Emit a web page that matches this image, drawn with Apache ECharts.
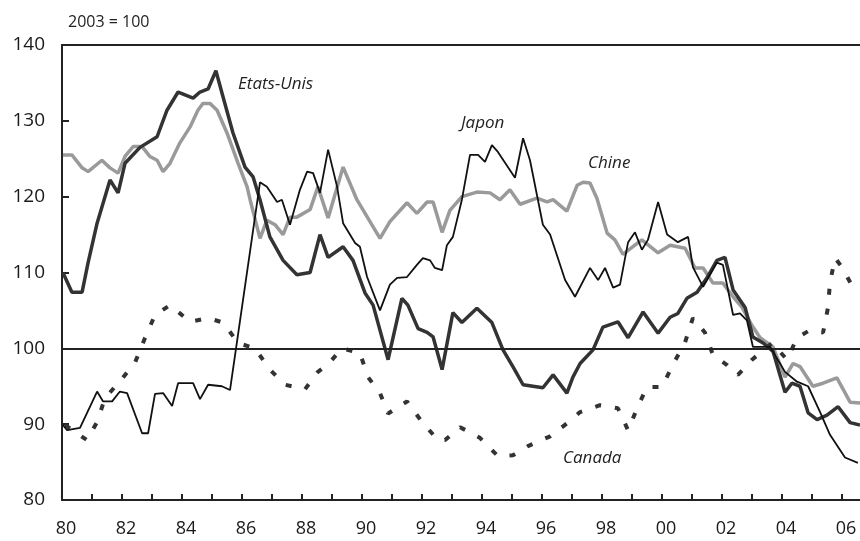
<!DOCTYPE html>
<html>
<head>
<meta charset="utf-8">
<script src="https://cdn.jsdelivr.net/npm/echarts@6/dist/echarts.min.js"></script>
<style>
html,body{margin:0;padding:0;background:#fff;}
#chart{width:860px;height:541px;}
</style>
</head>
<body>
<div id="chart"></div>
<script>
// ---- Data (year, index 2003 = 100) ----
const etatsUnis = [
  [1980.03,110],[1980.33,107.4],[1980.67,107.4],[1980.87,111.3],[1981.17,116.5],[1981.6,122.2],
  [1981.87,120.5],[1982.1,124.4],[1982.6,126.5],[1983.17,127.9],[1983.5,131.4],[1983.87,133.8],
  [1984.37,133],[1984.6,133.8],[1984.87,134.2],[1985.13,136.6],[1985.33,133.7],[1985.7,128.4],
  [1986.1,123.9],[1986.37,122.6],[1986.6,119.6],[1986.93,114.7],[1987.37,111.6],[1987.83,109.7],
  [1988.27,110],[1988.6,115],[1988.87,112],[1989.37,113.4],[1989.7,111.6],[1990.1,107.3],
  [1990.37,105.7],[1990.87,98.5],[1991.33,106.6],[1991.53,105.7],[1991.87,102.6],[1992.17,102.1],
  [1992.37,101.5],[1992.67,97.2],[1993.03,104.7],[1993.33,103.4],[1993.83,105.3],[1994.33,103.4],
  [1994.7,99.8],[1995.03,97.6],[1995.37,95.2],[1995.7,95],[1996.03,94.8],[1996.37,96.5],
  [1996.83,94.1],[1997.03,96.2],[1997.27,98],[1997.7,99.8],[1998.03,102.8],[1998.53,103.5],
  [1998.87,101.4],[1999.37,104.8],[1999.87,102],[2000.27,104.1],[2000.53,104.6],[2000.83,106.6],
  [2001.17,107.4],[2001.5,109.3],[2001.83,111.6],[2002.1,112],[2002.37,107.7],[2002.77,105.4],
  [2003.03,101.5],[2003.37,100.7],[2003.7,99.6],[2004.1,94.2],[2004.33,95.4],[2004.6,95],
  [2004.87,91.5],[2005.17,90.6],[2005.5,91.2],[2005.87,92.3],[2006.27,90.2],[2006.6,89.9]
];
const japon = [
  [1980.03,89.9],[1980.17,89.2],[1980.6,89.5],[1981.17,94.3],[1981.37,93],[1981.67,93],
  [1981.93,94.3],[1982.17,94.1],[1982.67,88.8],[1982.87,88.8],[1983.1,94],[1983.37,94.1],
  [1983.67,92.4],[1983.87,95.4],[1984.37,95.4],[1984.6,93.3],[1984.87,95.2],[1985.33,95],
  [1985.6,94.5],[1986.6,121.9],[1986.83,121.3],[1987.17,119.3],[1987.33,119.6],[1987.6,116.3],
  [1987.93,120.9],[1988.17,123.3],[1988.37,123.1],[1988.6,120.5],[1988.87,126.2],[1989.17,121.3],
  [1989.37,116.5],[1989.77,113.9],[1989.93,113.4],[1990.17,109.4],[1990.6,105],[1990.93,108.4],
  [1991.17,109.3],[1991.5,109.4],[1991.83,111],[1992.03,111.9],[1992.27,111.6],[1992.43,110.6],
  [1992.67,110.3],[1992.83,113.6],[1993.03,114.7],[1993.33,119.6],[1993.6,125.5],[1993.87,125.5],
  [1994.1,124.6],[1994.33,126.8],[1994.53,125.9],[1995.1,122.5],[1995.37,127.7],[1995.6,124.8],
  [1996.03,116.3],[1996.27,115],[1996.77,109],[1997.1,106.8],[1997.6,110.6],[1997.87,109],
  [1998.1,110.6],[1998.37,108],[1998.6,108.4],[1998.87,114],[1999.1,115.3],[1999.33,113],
  [1999.53,114.3],[1999.87,119.3],[2000.17,115],[2000.53,114],[2000.87,114.7],[2001.03,110.7],
  [2001.37,108.1],[2001.6,109.7],[2001.83,111.3],[2002.03,111],[2002.37,104.4],[2002.6,104.6],
  [2002.83,103.7],[2003.03,100.2],[2003.6,100.2],[2004.1,96.9],[2004.5,95.6],[2004.87,95],
  [2005.27,91.6],[2005.6,88.6],[2006.1,85.6],[2006.53,84.9]
];
const chine = [
  [1980.03,125.5],[1980.33,125.5],[1980.67,123.8],[1980.87,123.3],[1981.33,124.8],[1981.6,123.8],
  [1981.87,123.1],[1982.1,125.3],[1982.37,126.6],[1982.67,126.6],[1982.93,125.3],[1983.17,124.8],
  [1983.37,123.3],[1983.6,124.4],[1983.93,127.1],[1984.27,129.2],[1984.53,131.4],[1984.7,132.3],
  [1984.93,132.3],[1985.17,131.4],[1985.5,128.4],[1985.87,124.4],[1986.17,121.3],[1986.27,119.6],
  [1986.6,114.5],[1986.83,116.9],[1987.1,116.3],[1987.37,115],[1987.6,117.3],[1987.83,117.3],
  [1988.27,118.3],[1988.53,121.3],[1988.87,117.2],[1989.37,123.9],[1989.83,119.6],[1990.6,114.5],
  [1990.93,116.7],[1991.5,119.2],[1991.83,117.8],[1992.17,119.3],[1992.37,119.3],[1992.67,115.3],
  [1992.93,118.2],[1993.33,120],[1993.83,120.6],[1994.27,120.5],[1994.6,119.6],[1994.93,120.9],
  [1995.27,119],[1995.83,119.8],[1996.17,119.3],[1996.37,119.6],[1996.83,118.1],[1997.17,121.5],
  [1997.37,121.9],[1997.6,121.8],[1997.83,119.8],[1998.17,115.2],[1998.43,114.3],[1998.7,112.4],
  [1999.03,113.4],[1999.33,114.3],[1999.87,112.6],[2000.27,113.6],[2000.77,113.2],[2001.1,110.6],
  [2001.37,110.6],[2001.7,108.6],[2002.03,108.6],[2002.37,106.8],[2002.67,105.4],[2003,103],
  [2003.27,101.4],[2003.7,100.2],[2004.1,96.2],[2004.37,98],[2004.6,97.6],[2005.03,95],
  [2005.37,95.4],[2005.83,96.1],[2006.27,92.9],[2006.6,92.8]
];
const canada = [
  [1980.1,89.9],[1980.83,87.9],[1981.17,90.3],[1981.43,93.4],[1982,96],[1982.43,98.1],
  [1982.77,101.4],[1983.1,104.4],[1983.6,105.7],[1984.27,103.5],[1984.87,104],[1985.37,103.4],
  [1985.87,100.7],[1986.43,100],[1986.93,97.2],[1987.43,95.2],[1988.1,94.6],[1988.53,96.9],
  [1988.87,97.9],[1989.33,100],[1989.93,99.4],[1990.2,96.2],[1990.6,94.1],[1990.87,91.4],
  [1991.5,93],[1992,90.3],[1992.53,87.9],[1992.77,87.9],[1993.27,89.6],[1993.93,88.2],
  [1994.53,85.8],[1995.03,85.9],[1995.53,87.1],[1996.27,88.4],[1996.83,90.1],[1997.27,91.6],
  [1997.93,92.5],[1998.53,92.1],[1998.87,89.2],[1999.17,92.1],[1999.5,94.9],[2000,94.9],
  [2000.37,97.9],[2000.77,100.8],[2001.03,104],[2001.43,102.1],[2001.7,99.1],[2002.17,97.8],
  [2002.53,96.5],[2003,98.5],[2003.67,100.7],[2004.17,98.5],[2004.5,101.4],[2004.93,102.4],
  [2005.37,102.1],[2005.53,105.3],[2005.6,108.7],[2005.77,111.9],[2006,110.7],[2006.37,108],
  [2006.6,107.7]
];
const xTickYears = [1980,1982,1984,1986,1988,1990,1992,1994,1996,1998,2000,2002,2004,2006];
const xTickLabels = ['80','82','84','86','88','90','92','94','96','98','00','02','04','06'];
const yTicks = [80,90,100,110,120,130,140];
const baseLine = 100;
const unitLabel = '2003 = 100';
const seriesNames = ['Etats-Unis','Japon','Chine','Canada'];

const FONT = '"Open Sans", "DejaVu Sans", sans-serif';
const chart = echarts.init(document.getElementById('chart'), null, {renderer:'canvas'});

const option = {
  animation: false,
  backgroundColor: '#fff',
  grid: {left: 62, right: 0, top: 45, bottom: 41, containLabel: false},
  xAxis: [{
    type: 'value', min: 1980, max: 2006.6, interval: 1,
    position: 'bottom',
    axisLine: {lineStyle: {color: '#222', width: 2}},
    axisTick: {inside: true, length: 6, lineStyle: {color: '#222', width: 2}},
    axisLabel: {
      margin: 20, color: '#1a1a1a', fontSize: 18, fontFamily: FONT, padding: [0,0,0,8],
      showMaxLabel: false,
      formatter: function (v) {
        const i = xTickYears.findIndex(y => Math.abs(y - v) < 1e-6);
        return i >= 0 ? xTickLabels[i] : '';
      }
    },
    splitLine: {show: false}
  }, {
    type: 'value', min: 1980, max: 2006.6, position: 'top',
    axisLine: {onZero: false, lineStyle: {color: '#222', width: 2}},
    axisTick: {show: false}, axisLabel: {show: false}, splitLine: {show: false}
  }],
  yAxis: {
    type: 'value', min: yTicks[0], max: yTicks[yTicks.length-1], interval: 10,
    axisLine: {show: true, lineStyle: {color: '#222', width: 2}},
    axisTick: {show: true, inside: true, length: 7, lineStyle: {color: '#222', width: 2}},
    axisLabel: {margin: 17, color: '#1a1a1a', fontSize: 19, fontFamily: FONT},
    splitLine: {show: false}
  },
  series: [
    {
      name: seriesNames[2], type: 'line', data: chine, showSymbol: false, symbol: 'none',
      lineStyle: {color: '#9a9a9a', width: 3.5}, z: 2,
      markLine: {
        silent: true, symbol: 'none', label: {show: false},
        lineStyle: {color: '#222', width: 2, type: 'solid'},
        data: [{yAxis: baseLine}]
      }
    },
    {
      name: seriesNames[3], type: 'line', data: canada, showSymbol: false, symbol: 'none',
      lineStyle: {color: '#333', width: 4, type: [6, 14]}, z: 3
    },
    {
      name: seriesNames[0], type: 'line', data: etatsUnis, showSymbol: false, symbol: 'none',
      lineStyle: {color: '#333', width: 3.5}, z: 4
    },
    {
      name: seriesNames[1], type: 'line', data: japon, showSymbol: false, symbol: 'none',
      lineStyle: {color: '#111', width: 1.8}, z: 5
    }
  ],
  graphic: [
    {type: 'text', left: 68, top: 14, style: {text: unitLabel, font: '16px ' + FONT, fill: '#222'}},
    {type: 'text', left: 238, top: 76, style: {text: seriesNames[0], font: 'italic 17px ' + FONT, fill: '#222'}},
    {type: 'text', left: 461, top: 115, style: {text: seriesNames[1], font: 'italic 17px ' + FONT, fill: '#222'}},
    {type: 'text', left: 588, top: 155, style: {text: seriesNames[2], font: 'italic 17px ' + FONT, fill: '#222'}},
    {type: 'text', left: 563, top: 450, style: {text: seriesNames[3], font: 'italic 17px ' + FONT, fill: '#222'}}
  ]
};
chart.setOption(option);
</script>
</body>
</html>
